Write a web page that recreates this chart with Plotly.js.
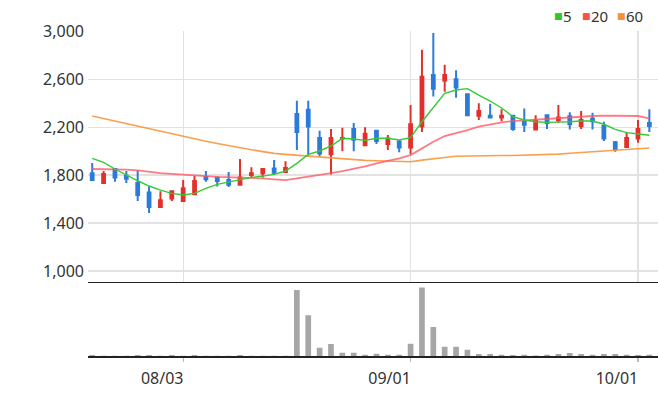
<!DOCTYPE html>
<html>
<head>
<meta charset="utf-8">
<script src="https://cdn.plot.ly/plotly-3.0.1.min.js"></script>
<style>
  html, body { margin: 0; padding: 0; background: #fff; }
  #chart { width: 658px; height: 408px; }
</style>
</head>
<body>
<div id="chart"></div>
<script>
// Daily trading sessions (MM/DD)
const dates = [
  '07/22','07/23','07/24','07/27','07/28','07/29','07/30','07/31',
  '08/03','08/04','08/05','08/06','08/07','08/10','08/11','08/12','08/13',
  '08/17','08/18','08/19','08/20','08/21','08/24','08/25','08/26','08/27','08/28','08/31',
  '09/01','09/02','09/03','09/04','09/07','09/08','09/09','09/10','09/11',
  '09/14','09/15','09/16','09/17','09/18','09/21','09/22','09/23','09/24','09/25','09/30',
  '10/01','10/02'
];

// OHLC prices (KRW)
const opens  = [1815,1735,1850,1795,1735,1655,1535,1605,1585,1640,1785,1780,1760,1720,1800,1815,1855,1825,
                2310,2345,2110,1975,2105,2185,2050,2170,2060,2080,2030,2205,2635,2590,2600,2475,2295,2295,
                2280,2295,2245,2180,2300,2260,2290,2210,2270,2210,2075,2035,2105,2235];
const highs  = [1900,1835,1850,1835,1840,1710,1665,1665,1760,1795,1835,1780,1825,1935,1865,1850,1925,1915,
                2420,2420,2170,2185,2195,2235,2200,2170,2135,2095,2385,2845,2985,2720,2675,2475,2400,2395,
                2350,2295,2355,2300,2300,2385,2325,2335,2320,2245,2085,2155,2260,2350];
const lows   = [1750,1735,1745,1735,1585,1485,1530,1585,1585,1640,1745,1705,1700,1720,1775,1780,1800,1825,
                2010,1955,1960,1805,2000,2000,2050,2060,2010,1990,1975,2160,2455,2495,2445,2300,2260,2280,
                2250,2170,2160,2180,2185,2235,2180,2185,2180,2085,1995,2030,2070,2160];
const closes = [1760,1810,1780,1770,1635,1535,1590,1665,1690,1750,1765,1750,1720,1780,1815,1850,1820,1860,
                2160,2205,1980,2110,2110,2095,2145,2085,2105,2030,2225,2620,2520,2635,2530,2300,2335,2280,
                2295,2185,2220,2255,2235,2280,2225,2260,2250,2105,2015,2110,2185,2210];

// Moving averages (5, 20, 60 sessions)
const ma5  = [1940,1907,1851,1800,1753,1709,1675,1648,1634,1648,1690,1723,1742,1765,1781,1792,1806,1834,
              1898,1973,2001,2043,2107,2101,2090,2107,2107,2093,2112,2245,2362,2482,2510,2521,2468,2418,
              2360,2287,2260,2245,2240,2240,2245,2251,2251,2224,2182,2154,2140,2132];
const ma20 = [1851,1851,1848,1845,1840,1826,1817,1811,1803,1798,1792,1786,1784,1781,1778,1773,1765,1759,
              1773,1786,1800,1817,1834,1853,1873,1898,1917,1940,1967,2023,2078,2126,2149,2176,2204,2224,
              2240,2251,2257,2268,2274,2279,2287,2290,2293,2296,2296,2296,2293,2274];
const ma60 = [2293,2272,2251,2231,2210,2186,2163,2141,2120,2101,2082,2064,2045,2029,2012,1996,1981,1973,
              1966,1954,1947,1940,1932,1926,1923,1920,1917,1914,1912,1925,1938,1947,1957,1960,1961,1962,
              1963,1964,1966,1967,1968,1975,1982,1989,1995,2002,2008,2014,2020,2026];

// Traded volume (shares)
const volumes = [14000,2000,3000,2500,16000,15000,4000,15000,5000,15000,3000,2000,4000,14000,3000,2000,5000,4000,
                 990000,610000,125000,180000,48000,47000,20000,32000,18000,17000,182000,1025000,435000,140000,138000,92000,30000,31000,
                 17000,16000,18000,6000,17000,29000,46000,30000,18000,31000,30000,17000,16000,17000];

// Axis ticks
const tickDates  = ['08/03','09/01','10/01'];
const tickLabels = ['08/03','09/01','10/01'];
const priceTicks = [1000,1400,1800,2200,2600,3000];

// Series legend
const maNames  = ['5','20','60'];
const maColors = ['#2fc62f','#ff4d4d','#f59233'];

const UP = '#e3302a', DOWN = '#2b7bd9';

const traces = [
  {
    type: 'candlestick', x: dates, open: opens, high: highs, low: lows, close: closes,
    xaxis: 'x', yaxis: 'y', whiskerwidth: 0,
    increasing: { line: { color: UP, width: 2 }, fillcolor: UP },
    decreasing: { line: { color: DOWN, width: 2 }, fillcolor: DOWN },
    hoverinfo: 'skip'
  },
  { type: 'scatter', mode: 'lines', x: dates, y: ma60, xaxis: 'x', yaxis: 'y',
    line: { color: '#f7963a', width: 1.6 }, opacity: 0.9, hoverinfo: 'skip' },
  { type: 'scatter', mode: 'lines', x: dates, y: ma20, xaxis: 'x', yaxis: 'y',
    line: { color: '#ff5560', width: 1.8 }, opacity: 0.78, hoverinfo: 'skip' },
  { type: 'scatter', mode: 'lines', x: dates, y: ma5, xaxis: 'x', yaxis: 'y',
    line: { color: '#35c935', width: 1.4 }, hoverinfo: 'skip' },
  { type: 'bar', x: dates, y: volumes, xaxis: 'x2', yaxis: 'y2',
    marker: { color: '#a6a6a6' }, width: 0.5, hoverinfo: 'skip' }
];

// Legend built from small squares followed by the period label
const legendX = [0.814, 0.863, 0.9245];
const annotations = [];
maNames.forEach((n, i) => {
  annotations.push({
    xref: 'paper', yref: 'paper', x: legendX[i], y: 1.047, xanchor: 'left', yanchor: 'middle',
    text: '■', showarrow: false, font: { size: 9, color: maColors[i], family: 'DejaVu Sans' }
  });
  annotations.push({
    xref: 'paper', yref: 'paper', x: legendX[i] + 0.016, y: 1.047, xanchor: 'left', yanchor: 'middle',
    text: n, showarrow: false, font: { size: 15, color: '#333' }
  });
});

const layout = {
  width: 658, height: 408,
  margin: { l: 88, r: 0, t: 31, b: 52 },
  paper_bgcolor: '#ffffff', plot_bgcolor: '#ffffff',
  showlegend: false,
  boxgap: 0.65,
  font: { family: 'Noto Sans, sans-serif', size: 15, color: '#333' },
  xaxis: {
    type: 'category', anchor: 'y', range: [-0.37, 49.76],
    tickvals: tickDates, showticklabels: false, ticks: '',
    showgrid: true, gridcolor: '#e2e2e2', gridwidth: 1.3,
    showline: true, linecolor: '#222', linewidth: 1.5,
    zeroline: false, rangeslider: { visible: false }, fixedrange: true
  },
  yaxis: {
    domain: [0.229, 1], range: [912, 3002],
    tickvals: priceTicks, tickformat: ',d', ticks: '',
    showgrid: true, gridcolor: '#e2e2e2', gridwidth: 1.3,
    zeroline: false, showline: false, ticklabelstandoff: 3,
    tickfont: { size: 16, color: '#333' }
  },
  xaxis2: {
    type: 'category', anchor: 'y2', matches: 'x',
    tickvals: tickDates, ticktext: tickLabels,
    ticks: 'outside', ticklen: 4, tickcolor: '#bbbbbb', tickwidth: 1.3,
    showgrid: false, showline: true, linecolor: '#222', linewidth: 1.5,
    zeroline: false, ticklabelshift: -21, ticklabelstandoff: 3,
    tickfont: { size: 16, color: '#333' }
  },
  yaxis2: {
    domain: [0, 0.229], range: [0, 1115000],
    showticklabels: false, showgrid: false, zeroline: false, showline: false, ticks: ''
  },
  annotations: annotations
};

Plotly.newPlot('chart', traces, layout, { staticPlot: true, displayModeBar: false });
</script>
</body>
</html>
